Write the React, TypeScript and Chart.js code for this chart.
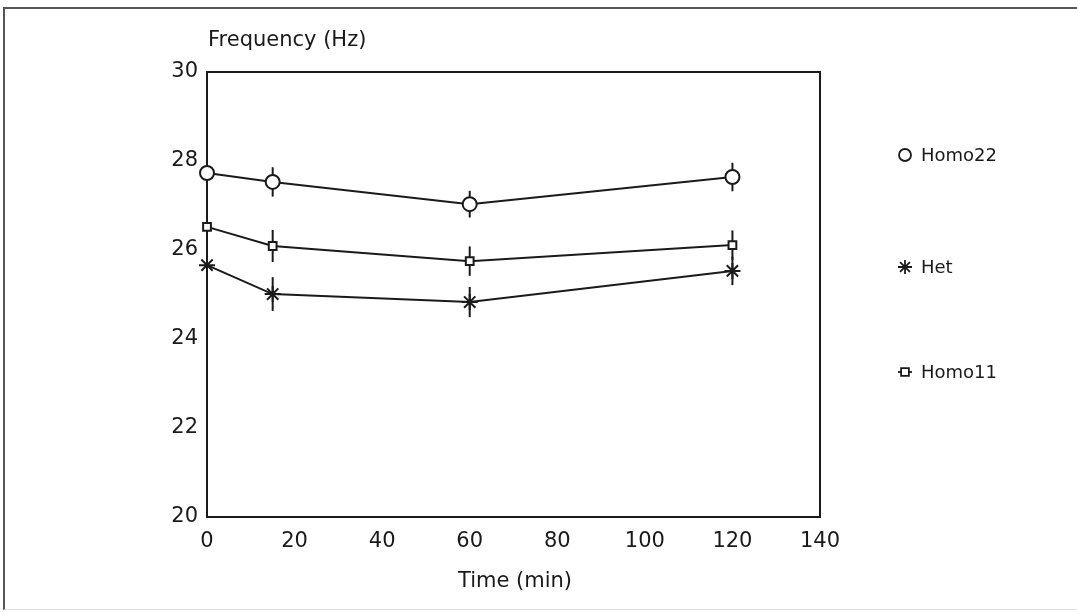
import React, { useEffect, useRef } from "react";
import { Chart, registerables } from "chart.js";

Chart.register(...registerables);

const times = [0, 15, 60, 120];
const homo22 = [27.73, 27.53, 27.03, 27.64];
const homo22Err = [0, 0.33, 0.3, 0.32];
const het = [25.66, 25.01, 24.83, 25.53];
const hetErr = [0, 0.38, 0.34, 0.32];
const homo11 = [26.52, 26.09, 25.75, 26.11];
const homo11Err = [0, 0.36, 0.33, 0.33];
const xTicks = [0, 20, 40, 60, 80, 100, 120, 140];
const yTicks = [20, 22, 24, 26, 28, 30];
const legendLabels = ["Homo22", "Het", "Homo11"];

const FONT = "'DejaVu Sans', 'Liberation Sans', Arial, sans-serif";
const INK = "#1a1a1a";

export default function App() {
  const ref = useRef<HTMLCanvasElement | null>(null);
  useEffect(() => {
    if (!ref.current) return;
    const errs = [homo22Err, hetErr, homo11Err];
    const styles: any[] = ["circle", "star", "rect"];
    const radii = [7, 8, 5.5];
    const legendY = [155, 267, 372];

    function drawPoint(ctx: CanvasRenderingContext2D, style: string, r: number, x: number, y: number) {
      ctx.beginPath();
      if (style === "circle") {
        ctx.arc(x, y, r, 0, Math.PI * 2);
        ctx.fill();
        ctx.stroke();
      } else if (style === "rect") {
        const s = r * Math.SQRT1_2;
        ctx.rect(x - s, y - s, 2 * s, 2 * s);
        ctx.fill();
        ctx.stroke();
      } else {
        for (let k = 0; k < 4; k++) {
          const ang = (k * Math.PI) / 4;
          ctx.moveTo(x - r * Math.cos(ang), y - r * Math.sin(ang));
          ctx.lineTo(x + r * Math.cos(ang), y + r * Math.sin(ang));
        }
        ctx.stroke();
      }
    }

    const plugin = {
      id: "custom",
      beforeDatasetsDraw(chart: any) {
        const ctx = chart.ctx;
        const xs = chart.scales.x;
        const ys = chart.scales.y;
        const a = chart.chartArea;
        ctx.save();
        ctx.strokeStyle = INK;
        ctx.lineWidth = 2;
        ctx.strokeRect(a.left, a.top, a.right - a.left, a.bottom - a.top);
        errs.forEach((e, di) => {
          const data = chart.data.datasets[di].data as any[];
          data.forEach((p: any, i: number) => {
            if (!e[i]) return;
            const x = xs.getPixelForValue(p.x);
            ctx.beginPath();
            ctx.moveTo(x, ys.getPixelForValue(p.y + e[i]));
            ctx.lineTo(x, ys.getPixelForValue(p.y - e[i]));
            ctx.stroke();
          });
        });
        ctx.restore();
      },
      afterDraw(chart: any) {
        const ctx = chart.ctx;
        ctx.save();
        ctx.fillStyle = INK;
        ctx.font = `21px ${FONT}`;
        ctx.textBaseline = "middle";
        ctx.textAlign = "left";
        ctx.fillText("Frequency (Hz)", 208, 41);
        ctx.textAlign = "center";
        ctx.fillText("Time (min)", 515, 582);
        ctx.font = `18px ${FONT}`;
        ctx.textAlign = "left";
        legendLabels.forEach((lab, i) => {
          const y = legendY[i];
          const x = 905;
          ctx.strokeStyle = INK;
          ctx.lineWidth = 1.8;
          if (i === 2) {
            ctx.beginPath();
            ctx.moveTo(x - 7, y);
            ctx.lineTo(x + 7, y);
            ctx.stroke();
          }
          ctx.fillStyle = "#fff";
          drawPoint(ctx, styles[i], i === 0 ? 6 : i === 1 ? 7 : 5.5, x, y);
          ctx.fillStyle = INK;
          ctx.fillText(lab, 921, y + 1);
        });
        ctx.restore();
      },
    };

    const mk = (label: string, vals: number[], i: number) => ({
      label,
      data: times.map((t, k) => ({ x: t, y: vals[k] })),
      borderColor: INK,
      backgroundColor: "#fff",
      borderWidth: 2,
      pointStyle: styles[i],
      pointRadius: radii[i],
      pointBorderWidth: 2,
      pointBorderColor: INK,
      pointBackgroundColor: "#fff",
      showLine: true,
      tension: 0,
      clip: false,
    });

    const chart = new Chart(ref.current, {
      type: "scatter",
      data: {
        datasets: [mk("Homo22", homo22, 0), mk("Het", het, 1), mk("Homo11", homo11, 2)],
      },
      options: {
        animation: false,
        responsive: false,
        layout: { padding: { left: 0, top: 72, right: 257, bottom: 0 } },
        plugins: { legend: { display: false }, tooltip: { enabled: false } },
        scales: {
          x: {
            type: "linear",
            min: 0,
            max: 140,
            afterFit: (s: any) => { s.height = 95; },
            afterBuildTicks: (s: any) => { s.ticks = xTicks.map((v) => ({ value: v })); },
            grid: { display: false, drawTicks: false },
            border: { display: false },
            ticks: { color: INK, font: { size: 21, family: FONT }, padding: 12, maxRotation: 0 },
          },
          y: {
            type: "linear",
            min: 20,
            max: 30,
            afterFit: (s: any) => { s.width = 207; },
            afterBuildTicks: (s: any) => { s.ticks = yTicks.map((v) => ({ value: v })); },
            grid: { display: false, drawTicks: false },
            border: { display: false },
            ticks: { color: INK, font: { size: 21, family: FONT }, padding: 9 },
          },
        },
      },
      plugins: [plugin],
    });
    return () => chart.destroy();
  }, []);

  return (
    <div style={{ position: "absolute", left: 0, top: 0, width: 1077, height: 612, background: "#fff" }}>
      <div style={{ position: "absolute", left: 3, top: 7, width: 1080, height: 600, borderLeft: "2px solid #555", borderTop: "2px solid #555", borderBottom: "1px solid #ddd" }} />
      <canvas ref={ref} width={1077} height={612} style={{ position: "absolute", left: 0, top: 0 }} />
    </div>
  );
}
